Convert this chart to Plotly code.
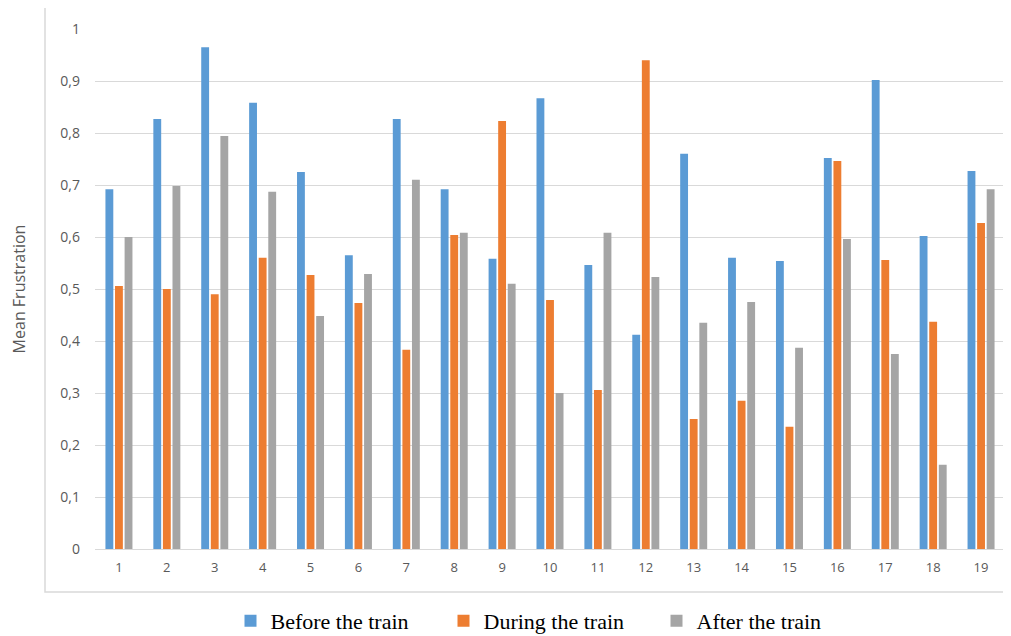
import plotly.graph_objects as go

categories = [str(i) for i in range(1, 20)]
before = [0.692, 0.827, 0.965, 0.858, 0.725, 0.565, 0.827, 0.692, 0.558, 0.867,
          0.546, 0.412, 0.760, 0.560, 0.554, 0.752, 0.902, 0.602, 0.727]
during = [0.506, 0.500, 0.490, 0.560, 0.527, 0.473, 0.383, 0.604, 0.823, 0.479,
          0.306, 0.940, 0.250, 0.285, 0.235, 0.746, 0.556, 0.437, 0.627]
after = [0.600, 0.698, 0.794, 0.687, 0.448, 0.529, 0.710, 0.608, 0.510, 0.300,
         0.608, 0.523, 0.435, 0.475, 0.387, 0.596, 0.375, 0.162, 0.692]
series_names = ["Before the train", "During the train", "After the train"]
colors = ["#5B9BD5", "#ED7D31", "#A5A5A5"]
y_ticks = [0, 0.1, 0.2, 0.3, 0.4, 0.5, 0.6, 0.7, 0.8, 0.9, 1]
y_ticktext = ["0", "0,1", "0,2", "0,3", "0,4", "0,5", "0,6", "0,7", "0,8", "0,9", "1"]

fig = go.Figure()
for name, vals, col in zip(series_names, [before, during, after], colors):
    fig.add_trace(go.Bar(x=categories, y=vals, name=name, marker_color=col,
                         marker_line_width=0))

# page body has an 8px margin: figure is drawn at screen offset (8, 8)
OFF = 8
W, H = 1011 - OFF, 636 - OFF
ml, mr, mt, mb = 95 - OFF, 6, 29 - OFF, 87
pw, ph = W - ml - mr, H - mt - mb

def px2paper_x(px):
    return (px - OFF - ml) / pw

def px2paper_y(py):
    return (H - mb - (py - OFF)) / ph

fig.update_layout(
    width=W, height=H, autosize=False,
    margin=dict(l=ml, r=mr, t=mt, b=mb, autoexpand=False),
    paper_bgcolor="white", plot_bgcolor="white",
    barmode="group", bargap=0.4, bargroupgap=0.18,
    font=dict(family="Open Sans, Liberation Sans, sans-serif", color="#595959"),
    showlegend=True,
    legend=dict(orientation="h", x=px2paper_x(550), xanchor="center",
                y=px2paper_y(621), yanchor="middle",
                font=dict(family="Liberation Serif, serif", size=22, color="#000000"),
                itemwidth=30, traceorder="normal",
                entrywidthmode="pixels", entrywidth=168),
    shapes=[dict(type="rect", xref="paper", yref="paper",
                 x0=px2paper_x(45), x1=px2paper_x(1008),
                 y0=px2paper_y(592), y1=px2paper_y(7),
                 line=dict(color="#D9D9D9", width=1.5), layer="below")],
)
fig.update_xaxes(
    type="category", range=[-0.5, 18.5], automargin=False,
    showgrid=False, showline=True, linecolor="#D9D9D9", linewidth=1,
    ticks="", tickfont=dict(size=13, color="#595959"), tickangle=0,
    ticklabelstandoff=6,
)
fig.update_yaxes(
    range=[0, 1], tickvals=y_ticks, ticktext=y_ticktext, automargin=False,
    showgrid=True, gridcolor="#D9D9D9", gridwidth=1,
    zeroline=False, showline=False, ticks="",
    tickfont=dict(size=14, color="#595959"), ticklabelstandoff=14,
    title=dict(text="Mean Frustration", font=dict(size=16, color="#595959"), standoff=30),
)

fig.write_html("out.html")
